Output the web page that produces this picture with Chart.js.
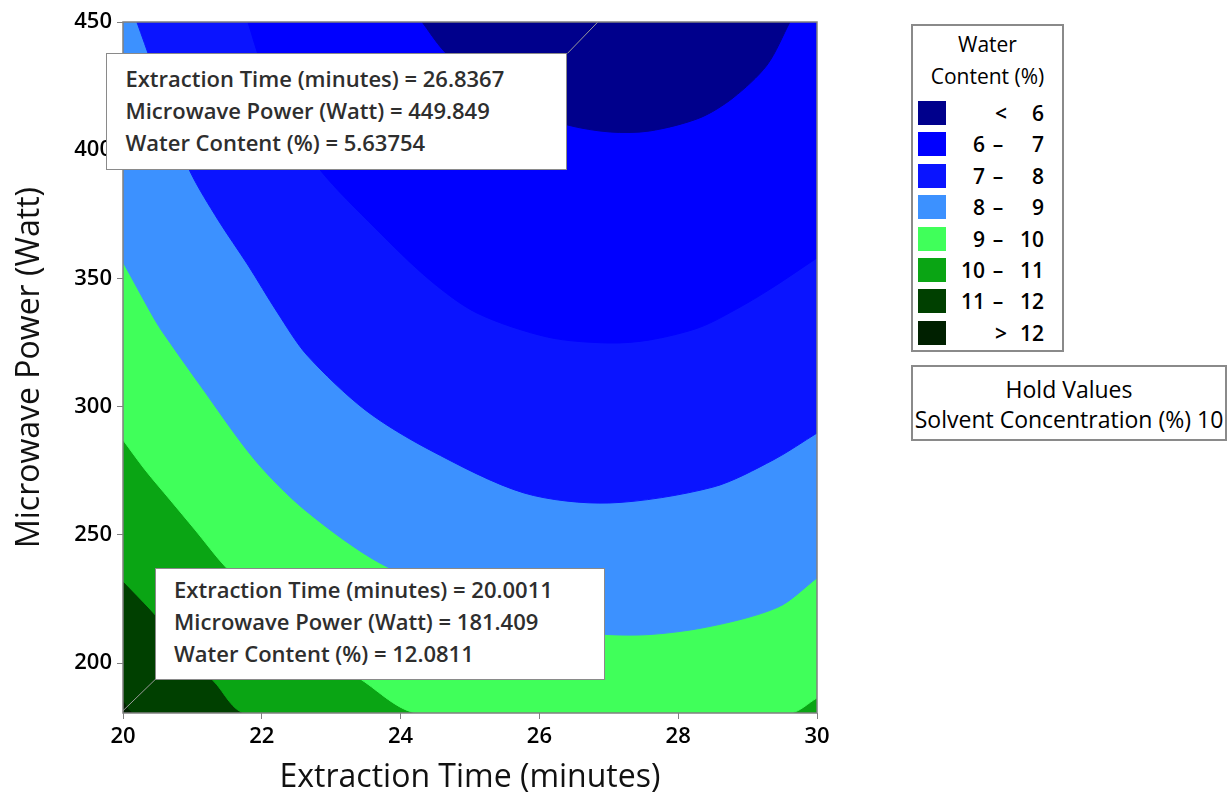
<!DOCTYPE html>
<html>
<head>
<meta charset="utf-8">
<title>Contour Plot of Water Content (%)</title>
<script src="https://cdn.jsdelivr.net/npm/chart.js@4.4.1/dist/chart.umd.min.js"></script>
<style>
  body { margin: 0; background: #fff; font-family: 'Open Sans', sans-serif; }
  #wrap { position: relative; width: 1231px; height: 802px; overflow: hidden; }
  #chart { position: absolute; left: 0; top: 0; }
  .box { position: absolute; background: #fff; border: 1.5px solid #8a8a8a; box-sizing: border-box; }
  .note { font-size: 22px; font-weight: 600; line-height: 32px; color: #2e2e2e; padding-left: 18px; white-space: nowrap; }
  #noteA { width: 461px; height: 117px; padding-top: 8px; }
  #noteB { width: 450px; height: 112px; padding-top: 4px; }
  #legend { left: 911px; top: 24px; width: 153px; height: 328px; border-width: 2px; }
  #legend div { position: absolute; font-size: 21px; line-height: 24px; color: #000; white-space: nowrap; }
  #legend .num { font-weight: 600; }
  #legend .sw { width: 28px; height: 24px; }
  #hold { left: 911px; top: 365px; width: 316px; height: 76px; border-width: 2px;
          text-align: center; font-size: 23px; line-height: 30px; color: #000; padding-top: 7px; white-space: nowrap; }
</style>
</head>
<body>
<div id="wrap">
  <canvas id="chart" width="1231" height="802"></canvas>
  <div id="noteA" class="box note"></div>
  <div id="noteB" class="box note"></div>
  <div id="legend" class="box"></div>
  <div id="hold" class="box"></div>
</div>
<script>
const xMin = 20, xMax = 30;
const yMin = 180.5, yMax = 450;
const xTicks = [20, 22, 24, 26, 28, 30];
const yTicks = [200, 250, 300, 350, 400, 450];

// contour lines (x = extraction time, y = microwave power)
const c6x = [24.31, 24.61, 25.07, 25.72, 26.41, 27.02, 27.59, 28.31, 28.79, 29.28, 29.61];
const c6y = [450, 439.1, 427.4, 416.5, 409.8, 407.1, 407.5, 412.6, 420.4, 433.2, 450];
const c7x = [21.80, 22.00, 22.33, 22.84, 23.63, 24.42, 25.10, 26.12, 27.00, 27.59, 28.31, 28.89, 29.37, 30];
const c7y = [450, 433.2, 413.7, 392.3, 369.7, 349.4, 336.5, 327.1, 324.8, 326.0, 330.9, 338.8, 346.6, 358.0];
const c8x = [20.20, 20.42, 20.68, 20.97, 21.37, 21.80, 22.22, 22.65, 23.49, 24.42, 25.78, 27.00, 28.50, 29.37, 30];
const c8y = [450, 433.2, 411.8, 391.5, 372.8, 355.2, 336.9, 320.1, 298.7, 283.1, 266.3, 262.4, 268.6, 279.2, 289.7];
const c9x = [20, 20.42, 20.55, 21.11, 21.90, 22.62, 23.70, 25.06, 26.40, 27.41, 28.41, 29.44, 30];
const c9y = [356.4, 335.7, 329.9, 308.4, 279.2, 259.7, 239.0, 223.4, 212.9, 210.9, 214.0, 221.8, 233.2];
const c10x = [20, 20.32, 20.68, 21.04, 21.48, 22.05, 22.69, 23.44, 24.25];
const c10y = [287.0, 275.3, 263.6, 251.9, 237.4, 222.6, 207.8, 193.4, 180.5];
const c10cornerX = [29.61, 30];   // small 10-11 patch in the lower right corner
const c10cornerY = [180.5, 186.4];
const c11x = [20, 20.40, 20.82, 21.33, 21.77];
const c11y = [232.0, 220.7, 207.8, 192.2, 180.5];
const c12x = [20, 20.17];
const c12y = [185.6, 180.5];

const levels = [6, 7, 8, 9, 10, 11, 12];
const bandColors = ['#00008c', '#0000ff', '#0a14ff', '#3c91ff', '#40ff5a', '#0aa514', '#004000', '#002000'];
const legendTitle = ['Water', 'Content (%)'];

// the two flagged points
const pickA = { time: '26.8367', power: '449.849', water: '5.63754' };
const pickB = { time: '20.0011', power: '181.409', water: '12.0811' };

const holdName = 'Solvent Concentration (%)';
const holdValue = 10;

function pts(xs, ys) {
    return xs.map((x, i) => ({ x: x, y: ys[i] }));
}
function bandLabel(i) {
    if (i === 0) return '< ' + levels[0];
    if (i === levels.length) return '> ' + levels[levels.length - 1];
    return levels[i - 1] + ' - ' + levels[i];
}

// each line bounds "water content below level i"; the area above it is painted in band i colour
const regions = [
    pts(c6x, c6y),
    pts(c7x, c7y),
    pts(c8x, c8y),
    pts(c9x, c9y),
    pts(c10x, c10y).concat(pts(c10cornerX, c10cornerY)),
    pts(c11x, c11y).concat([{ x: xMax, y: yMin }]),
    pts(c12x, c12y).concat([{ x: xMax, y: yMin }]),
    [{ x: xMin, y: yMin }, { x: xMax, y: yMin }]
];

const datasets = regions.map((r, i) => ({
    label: bandLabel(i),
    data: r,
    showLine: true,
    fill: 'end',
    backgroundColor: bandColors[i],
    borderColor: bandColors[i],
    borderWidth: 1,
    pointRadius: 0,
    tension: 0.3,
    order: i
}));

const tickFont = { family: "'Open Sans', sans-serif", size: 22, weight: '600' };
const titleFont = { family: "'Open Sans', sans-serif", size: 32 };

const frame = {
    id: 'frame',
    afterDatasetsDraw(chart) {
        const { ctx, chartArea: a, scales } = chart;
        ctx.save();
        ctx.strokeStyle = '#808080';
        ctx.lineWidth = 1.5;
        ctx.strokeRect(a.left, a.top, a.right - a.left, a.bottom - a.top);
        // leader lines from the boxes to the picked points
        const ax = scales.x.getPixelForValue(parseFloat(pickA.time));
        const ay = scales.y.getPixelForValue(parseFloat(pickA.power));
        const bx = scales.x.getPixelForValue(parseFloat(pickB.time));
        const by = scales.y.getPixelForValue(parseFloat(pickB.power));
        ctx.strokeStyle = '#9a9a9a';
        ctx.lineWidth = 1;
        ctx.beginPath();
        ctx.moveTo(ax, ay); ctx.lineTo(ax - 30, ay + 31);
        ctx.moveTo(bx, by); ctx.lineTo(bx + 32, by - 31);
        ctx.stroke();
        ctx.restore();

        const nA = document.getElementById('noteA');
        nA.style.left = (ax - 30 - 461) + 'px';
        nA.style.top = (ay + 31) + 'px';
        const nB = document.getElementById('noteB');
        nB.style.left = (bx + 32) + 'px';
        nB.style.top = (by - 31 - 112) + 'px';
    }
};

function noteHtml(p) {
    return 'Extraction Time (minutes) = ' + p.time + '<br>' +
        'Microwave Power (Watt) = ' + p.power + '<br>' +
        'Water Content (%) = ' + p.water;
}
document.getElementById('noteA').innerHTML = noteHtml(pickA);
document.getElementById('noteB').innerHTML = noteHtml(pickB);

// legend
let lg = '';
lg += '<div style="left:0;width:149px;text-align:center;top:6px">' + legendTitle[0] + '</div>';
lg += '<div style="left:0;width:149px;text-align:center;top:38px">' + legendTitle[1] + '</div>';
for (let i = 0; i < bandColors.length; i++) {
    const top = 75 + i * 31.4;
    lg += '<div class="sw" style="left:5px;top:' + top + 'px;background:' + bandColors[i] + '"></div>';
    if (i === 0 || i === bandColors.length - 1) {
        const sym = i === 0 ? '&lt;' : '&gt;';
        const v = i === 0 ? levels[0] : levels[levels.length - 1];
        lg += '<div class="num" style="left:80px;width:16px;text-align:center;top:' + top + 'px">' + sym + '</div>';
        lg += '<div class="num" style="left:95px;width:36px;text-align:right;top:' + top + 'px">' + v + '</div>';
    } else {
        lg += '<div class="num" style="left:36px;width:36px;text-align:right;top:' + top + 'px">' + levels[i - 1] + '</div>';
        lg += '<div class="num" style="left:77px;width:16px;text-align:center;top:' + top + 'px">&ndash;</div>';
        lg += '<div class="num" style="left:95px;width:36px;text-align:right;top:' + top + 'px">' + levels[i] + '</div>';
    }
}
document.getElementById('legend').innerHTML = lg;
document.getElementById('hold').innerHTML = 'Hold Values<br>' + holdName + ' ' + holdValue;

new Chart(document.getElementById('chart'), {
    type: 'scatter',
    data: { datasets: datasets },
    options: {
        responsive: false,
        animation: false,
        events: [],
        layout: { padding: { top: 22, right: 414, left: 0, bottom: 0 } },
        plugins: { legend: { display: false }, tooltip: { enabled: false } },
        scales: {
            x: {
                type: 'linear',
                min: xMin,
                max: xMax,
                afterBuildTicks: s => { s.ticks = xTicks.map(v => ({ value: v })); },
                afterFit: s => { s.height = 89; },
                grid: { drawOnChartArea: false, drawTicks: true, tickLength: 6, color: '#808080' },
                border: { display: false },
                ticks: { font: tickFont, color: '#000', padding: 5, maxRotation: 0 },
                title: { display: true, text: 'Extraction Time (minutes)', font: titleFont, color: '#111', padding: { top: 0, bottom: 5 } }
            },
            y: {
                type: 'linear',
                min: yMin,
                max: yMax,
                afterBuildTicks: s => { s.ticks = yTicks.map(v => ({ value: v })); },
                afterFit: s => { s.width = 123; },
                grid: { drawOnChartArea: false, drawTicks: true, tickLength: 6, color: '#808080' },
                border: { display: false },
                ticks: { font: tickFont, color: '#000', padding: 5 },
                title: { display: true, text: 'Microwave Power (Watt)', font: titleFont, color: '#111', padding: { top: 11, bottom: 0 } }
            }
        }
    },
    plugins: [frame]
});
</script>
</body>
</html>
